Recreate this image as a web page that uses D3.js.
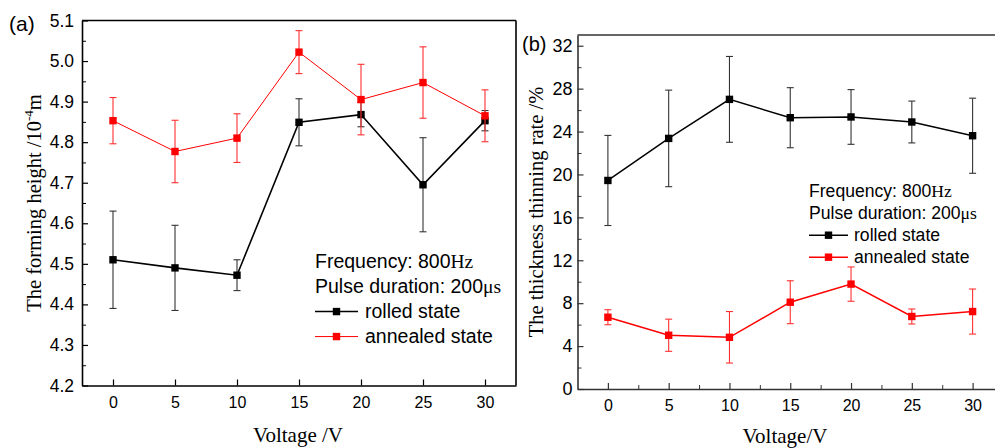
<!DOCTYPE html>
<html><head><meta charset="utf-8">
<script src="https://cdn.jsdelivr.net/npm/d3@7"></script>
<style>
html,body{margin:0;padding:0;background:#fff;}
svg{display:block;}
</style></head>
<body>
<svg id="chart" width="995" height="448"></svg>
<script>
// ---------- data ----------
const voltages = [0, 5, 10, 15, 20, 25, 30];
const xTicks = [0, 5, 10, 15, 20, 25, 30];

// (a) forming height /10^-4 m
const heightRolled      = [4.510, 4.490, 4.472, 4.849, 4.868, 4.695, 4.853];
const heightRolledErr   = [0.120, 0.105, 0.038, 0.058, 0.030, 0.116, 0.025];
const heightAnnealed    = [4.853, 4.777, 4.810, 5.022, 4.905, 4.947, 4.865];
const heightAnnealedErr = [0.057, 0.077, 0.060, 0.053, 0.087, 0.088, 0.064];
const heightTicks = [4.2, 4.3, 4.4, 4.5, 4.6, 4.7, 4.8, 4.9, 5.0, 5.1];

// (b) thickness thinning rate /%
const thinRolled      = [19.44, 23.36, 27.00, 25.29, 25.36, 24.89, 23.61];
const thinRolledErr   = [4.20, 4.50, 4.00, 2.80, 2.55, 1.95, 3.50];
const thinAnnealed    = [6.69, 5.01, 4.82, 8.09, 9.78, 6.76, 7.22];
const thinAnnealedErr = [0.70, 1.50, 2.40, 2.00, 1.60, 0.70, 2.10];
const thinTicks = [0, 4, 8, 12, 16, 20, 24, 28, 32];

const seriesNames = ["rolled state", "annealed state"];
const legendLine1 = ["Frequency: 800", "Hz"];
const legendLine2 = ["Pulse duration: 200", "\u03bcs"];

// ---------- drawing ----------
const svg = d3.select("#chart");
const SANS = "Arial, 'Liberation Sans', sans-serif";
const SERIF = "'Times New Roman', 'Liberation Serif', serif";

function panel(cfg) {
  const g = svg.append("g");
  const x = d3.scaleLinear().domain([-2.5, 32.5]).range(cfg.xr);
  const y = d3.scaleLinear().domain(cfg.yd).range(cfg.yr);

  // minor y ticks
  g.append("g").attr("transform", `translate(${cfg.xr[0]},0)`)
    .call(d3.axisLeft(y).tickValues(cfg.yMinor).tickSizeInner(-4).tickSizeOuter(0).tickFormat(""))
    .call(a => a.select(".domain").remove())
    .call(a => a.selectAll("line").attr("stroke", cfg.axisColor));
  if (cfg.xMinor) {
    g.append("g").attr("transform", `translate(0,${cfg.yr[0]})`)
      .call(d3.axisBottom(x).tickValues(cfg.xMinor).tickSizeInner(-4).tickSizeOuter(0).tickFormat(""))
      .call(a => a.select(".domain").remove())
      .call(a => a.selectAll("line").attr("stroke", cfg.axisColor));
  }
  // major axes
  const ya = g.append("g").attr("transform", `translate(${cfg.xr[0]},0)`)
    .call(d3.axisLeft(y).tickValues(cfg.yTicks).tickSizeInner(-6).tickSizeOuter(0)
      .tickPadding(cfg.yPad).tickFormat(cfg.yFmt));
  ya.selectAll("text").attr("font-family", SANS).attr("font-size", cfg.yFont).attr("fill", "#000");
  const xa = g.append("g").attr("transform", `translate(0,${cfg.yr[0]})`)
    .call(d3.axisBottom(x).tickValues(xTicks).tickSizeInner(-6).tickSizeOuter(0).tickPadding(cfg.xPad));
  xa.selectAll("text").attr("font-family", SANS).attr("font-size", cfg.xFont).attr("fill", "#000");
  [ya, xa].forEach(a => {
    a.select(".domain").attr("stroke", cfg.axisColor).attr("stroke-width", 1.6);
    a.selectAll(".tick line").attr("stroke", cfg.axisColor).attr("stroke-width", 1.2);
  });
  // frame
  g.append("line").attr("x1", cfg.xr[0]).attr("x2", cfg.xr[1]).attr("y1", cfg.yr[1]).attr("y2", cfg.yr[1])
    .attr("stroke", cfg.axisColor).attr("stroke-width", 1.6);
  g.append("line").attr("x1", cfg.xr[1]).attr("x2", cfg.xr[1]).attr("y1", cfg.yr[1]).attr("y2", cfg.yr[0])
    .attr("stroke", cfg.axisColor).attr("stroke-width", 1.6);

  // series
  cfg.series.forEach(s => {
    const pts = voltages.map((v, i) => ({x: v, y: s.vals[i], e: s.errs[i]}));
    const eg = g.append("g");
    pts.forEach(p => {
      const xc = x(p.x), y1 = y(p.y + p.e), y2 = y(p.y - p.e);
      eg.append("line").attr("x1", xc).attr("x2", xc).attr("y1", y1).attr("y2", y2);
      eg.append("line").attr("x1", xc - 3.5).attr("x2", xc + 3.5).attr("y1", y1).attr("y2", y1);
      eg.append("line").attr("x1", xc - 3.5).attr("x2", xc + 3.5).attr("y1", y2).attr("y2", y2);
    });
    eg.selectAll("line").attr("stroke", s.errColor).attr("stroke-width", 1.1);
    g.append("path").datum(pts)
      .attr("d", d3.line().x(d => x(d.x)).y(d => y(d.y)))
      .attr("fill", "none").attr("stroke", s.color).attr("stroke-width", s.lw);
    g.selectAll(null).data(pts).enter().append("rect")
      .attr("x", d => x(d.x) - 3.7).attr("y", d => y(d.y) - 3.7)
      .attr("width", 7.4).attr("height", 7.4).attr("fill", s.color);
  });

  // legend
  const L = cfg.legend;
  const t1 = g.append("text").attr("x", L.x).attr("y", L.y0).attr("font-family", SANS).attr("font-size", L.font);
  t1.append("tspan").text(legendLine1[0]);
  t1.append("tspan").attr("font-family", SERIF).text(legendLine1[1]);
  const t2 = g.append("text").attr("x", L.x).attr("y", L.y0 + L.dy).attr("font-family", SANS).attr("font-size", L.font);
  t2.append("tspan").text(legendLine2[0]);
  t2.append("tspan").attr("font-family", SERIF).text(legendLine2[1]);
  cfg.series.forEach((s, i) => {
    const by = L.y0 + L.dy * (i + 2);
    const ly = by - L.font * 0.33;
    g.append("line").attr("x1", L.x).attr("x2", L.x + L.lineW).attr("y1", ly).attr("y2", ly)
      .attr("stroke", s.color).attr("stroke-width", s.lw);
    g.append("rect").attr("x", L.x + L.lineW / 2 - 3.7).attr("y", ly - 3.7).attr("width", 7.4).attr("height", 7.4)
      .attr("fill", s.color);
    g.append("text").attr("x", L.x + L.lineW + L.gap).attr("y", by)
      .attr("font-family", SANS).attr("font-size", L.font).text(seriesNames[i]);
  });
  return g;
}

// (a)
panel({
  xr: [82, 516], yr: [385.5, 20.5], yd: [4.2, 5.1],
  yTicks: heightTicks, yMinor: d3.range(4.25, 5.1, 0.1), xMinor: null,
  yFmt: d3.format(".1f"), yPad: 8, xPad: 11, yFont: 17.5, xFont: 16, axisColor: "#000",
  series: [
    {vals: heightRolled, errs: heightRolledErr, color: "#000", errColor: "#333", lw: 1.6},
    {vals: heightAnnealed, errs: heightAnnealedErr, color: "#ff0000", errColor: "#ff3030", lw: 1.0}
  ],
  legend: {x: 315, y0: 268, dy: 25, font: 19.5, lineW: 43, gap: 7}
});

// (b)
panel({
  xr: [577.5, 1003], yr: [389, 35], yd: [0, 33],
  yTicks: thinTicks, yMinor: d3.range(2, 33, 4), xMinor: d3.range(2.5, 33, 5),
  yFmt: d3.format("d"), yPad: 5, xPad: 11, yFont: 18, xFont: 16, axisColor: "#333",
  series: [
    {vals: thinRolled, errs: thinRolledErr, color: "#000", errColor: "#333", lw: 1.5},
    {vals: thinAnnealed, errs: thinAnnealedErr, color: "#ff0000", errColor: "#ff3030", lw: 1.5}
  ],
  legend: {x: 809, y0: 197, dy: 22, font: 17.6, lineW: 39, gap: 6}
});

// axis titles
svg.append("text").attr("transform", "translate(41,203) rotate(-90)").attr("text-anchor", "middle")
  .attr("font-family", SERIF).attr("font-size", 20.5)
  .call(t => {
    t.append("tspan").text("The forming height /10");
    t.append("tspan").attr("dy", -8).attr("font-size", 13).text("-4");
    t.append("tspan").attr("dy", 8).text("m");
  });
svg.append("text").attr("transform", "translate(543,212) rotate(-90)").attr("text-anchor", "middle")
  .attr("font-family", SERIF).attr("font-size", 20.5).text("The thickness thinning rate /%");
svg.append("text").attr("x", 298).attr("y", 442).attr("text-anchor", "middle")
  .attr("font-family", SERIF).attr("font-size", 21).text("Voltage /V");
svg.append("text").attr("x", 785).attr("y", 443).attr("text-anchor", "middle")
  .attr("font-family", SERIF).attr("font-size", 21).text("Voltage/V");

// panel labels
svg.append("text").attr("x", 9).attr("y", 31).attr("font-family", SANS).attr("font-size", 21).text("(a)");
svg.append("text").attr("x", 522).attr("y", 51).attr("font-family", SANS).attr("font-size", 20).text("(b)");
</script>
</body></html>
